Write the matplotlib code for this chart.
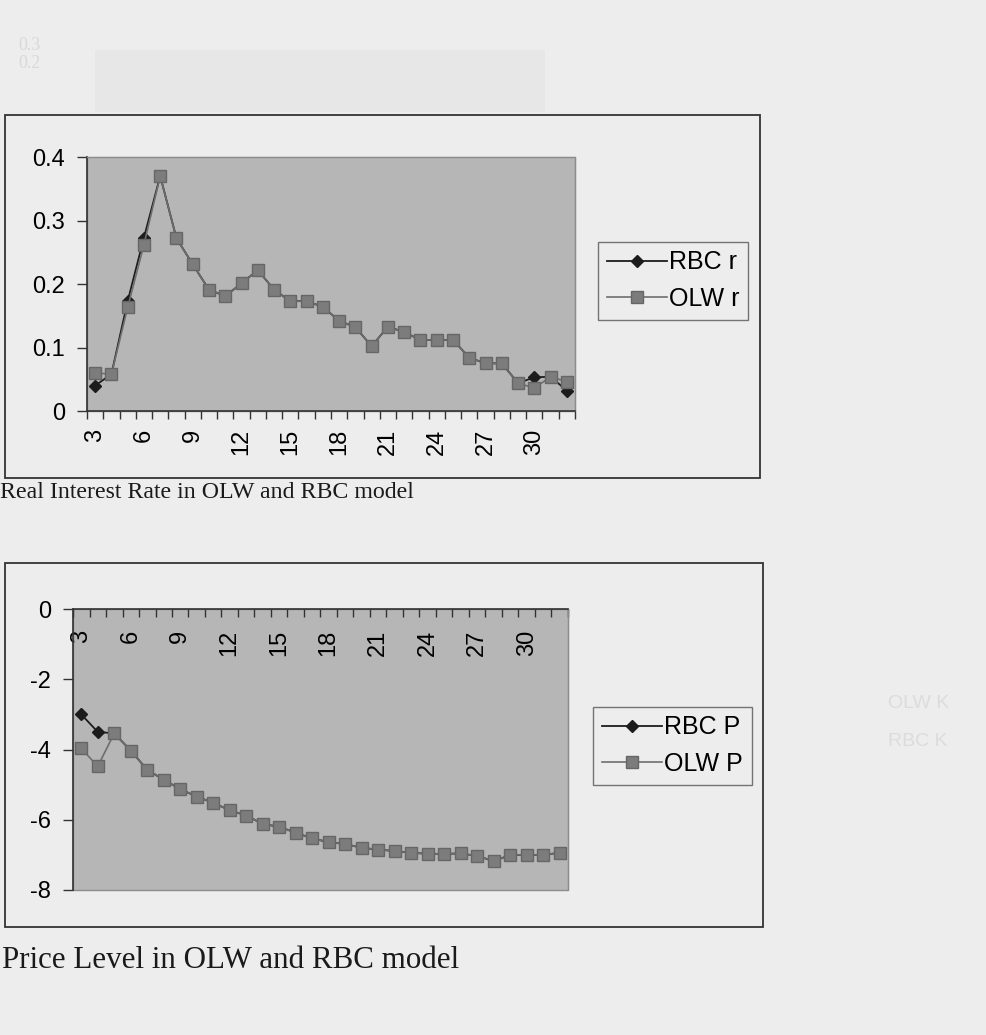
import matplotlib
matplotlib.use('Agg')
import matplotlib.pyplot as plt
from matplotlib.patches import Rectangle
import numpy as np

# periods on the x axis
periods = list(range(3, 33))

# real interest rate
rbc_r = [0.040, 0.058, 0.173, 0.273, 0.370, 0.272, 0.231, 0.191, 0.181, 0.201,
         0.222, 0.191, 0.173, 0.173, 0.164, 0.142, 0.132, 0.102, 0.133, 0.124,
         0.112, 0.112, 0.112, 0.084, 0.075, 0.075, 0.044, 0.053, 0.054, 0.032]
olw_r = [0.060, 0.058, 0.163, 0.262, 0.370, 0.272, 0.231, 0.191, 0.181, 0.201,
         0.222, 0.191, 0.173, 0.173, 0.164, 0.142, 0.132, 0.102, 0.133, 0.124,
         0.112, 0.112, 0.112, 0.084, 0.075, 0.075, 0.044, 0.036, 0.054, 0.046]

# price level
rbc_p = [-3.00, -3.50, -3.54, -4.03, -4.58, -4.86, -5.13, -5.34, -5.52, -5.73,
         -5.88, -6.12, -6.20, -6.37, -6.53, -6.64, -6.69, -6.80, -6.85, -6.89,
         -6.94, -6.97, -6.97, -6.96, -7.03, -7.18, -7.00, -7.00, -7.00, -6.94]
olw_p = [-3.97, -4.48, -3.54, -4.03, -4.58, -4.86, -5.13, -5.34, -5.52, -5.73,
         -5.88, -6.12, -6.20, -6.37, -6.53, -6.64, -6.69, -6.80, -6.85, -6.89,
         -6.94, -6.97, -6.97, -6.96, -7.03, -7.18, -7.00, -7.00, -7.00, -6.94]

r_ticks = [0, 0.1, 0.2, 0.3, 0.4]
p_ticks = [0, -2, -4, -6, -8]

page = '#ededed'
plot_bg = '#b6b6b6'
W, H = 987, 1035

plt.rcParams['font.family'] = ['Liberation Sans', 'DejaVu Sans']
plt.rcParams['axes.unicode_minus'] = False
fig = plt.figure(figsize=(W / 100, H / 100), dpi=100, facecolor=page)


def fbox(x0, y0, x1, y1, **kw):
    # rectangle given in pixel coords from the top-left corner
    fig.patches.append(Rectangle((x0 / W, 1 - y1 / H), (x1 - x0) / W, (y1 - y0) / H,
                                 transform=fig.transFigure, **kw))


# faint show-through from the other side of the sheet
fbox(95, 50, 545, 112, facecolor='#e7e7e7', edgecolor='none', zorder=0)
fig.text(18 / W, 1 - 46 / H, '0.3', fontsize=13, color='#d9d9d9', va='center',
         family=['Liberation Serif'])
fig.text(18 / W, 1 - 64 / H, '0.2', fontsize=13, color='#d9d9d9', va='center',
         family=['Liberation Serif'])
fig.text(888 / W, 1 - 703 / H, 'OLW K', fontsize=14, color='#dcdcdc', va='center')
fig.text(888 / W, 1 - 741 / H, 'RBC K', fontsize=14, color='#dcdcdc', va='center')

# chart frames
fbox(5, 115, 760, 478, facecolor='none', edgecolor='#333333', linewidth=1.3, zorder=1)
fbox(5, 563, 763, 927, facecolor='none', edgecolor='#333333', linewidth=1.3, zorder=1)


def setup(ax, rect, cross_zero=False):
    x0, y0, x1, y1 = rect
    ax.set_position([x0 / W, 1 - y1 / H, (x1 - x0) / W, (y1 - y0) / H])
    ax.set_facecolor(plot_bg)
    ax.patch.set_edgecolor('#8c8c8c')
    ax.patch.set_linewidth(1.0)
    if cross_zero:
        # category axis drawn where the value axis passes zero
        ax.spines['bottom'].set_position(('data', 0))
        ax.spines['top'].set_visible(False)
    ax.set_xlim(-0.5, len(periods) - 0.5)
    idx = np.arange(len(periods))
    ax.set_xticks(idx[::3])
    ax.set_xticklabels([str(p) for p in periods[::3]])
    ax.set_xticks(np.arange(len(periods) + 1) - 0.5, minor=True)
    ax.tick_params(axis='x', which='major', length=0, labelsize=17, pad=13,
                   labelrotation=90)
    ax.tick_params(axis='x', which='minor', length=6, width=1, color='#333333')
    ax.tick_params(axis='y', length=7, width=1, color='#333333', labelsize=17, pad=9)
    for s in ['top', 'right']:
        ax.spines[s].set_color('#8c8c8c')
    for s in ['left', 'bottom']:
        ax.spines[s].set_color('#333333')
        ax.spines[s].set_linewidth(1.2)


def series(ax, rbc, olw, labels):
    x = np.arange(len(periods))
    ax.plot(x, rbc, color='#1c1c1c', lw=1.3, marker='D', ms=6.5,
            mfc='#1c1c1c', mec='#1c1c1c', label=labels[0], zorder=3)
    ax.plot(x, olw, color='#6e6e6e', lw=1.2, marker='s', ms=8.5,
            mfc='#7c7c7c', mec='#666666', label=labels[1], zorder=4)


# real interest rate chart
ax1 = fig.add_axes([0, 0, 1, 1])
setup(ax1, (87, 157, 575, 411))
series(ax1, rbc_r, olw_r, ['RBC r', 'OLW r'])
ax1.set_ylim(0, 0.4)
ax1.set_yticks(r_ticks)
ax1.set_yticklabels(['0', '0.1', '0.2', '0.3', '0.4'])

# price level chart
ax2 = fig.add_axes([0, 0, 1, 1])
setup(ax2, (73, 609, 568, 890), cross_zero=True)
series(ax2, rbc_p, olw_p, ['RBC P', 'OLW P'])
ax2.set_ylim(-8, 0)
ax2.set_yticks(p_ticks)
ax2.tick_params(axis='x', which='major', pad=15)

for ax, (x0, y0, x1, y1) in [(ax1, (596, 239, 750, 322)), (ax2, (590, 704, 755, 787))]:
    leg = ax.legend(loc='center', bbox_to_anchor=((x0 + x1) / 2 / W, 1 - (y0 + y1) / 2 / H),
                    bbox_transform=fig.transFigure, frameon=True, fancybox=False,
                    fontsize=18, handlelength=2.4, handletextpad=0.1, labelspacing=0.5,
                    borderpad=0.35, borderaxespad=0)
    leg.get_frame().set_edgecolor('#555555')
    leg.get_frame().set_facecolor(page)
    leg.get_frame().set_linewidth(1.0)

serif = ['Liberation Serif', 'DejaVu Serif']
fig.text(0 / W, 1 - 492 / H, 'Real Interest Rate in OLW and RBC model',
         family=serif, fontsize=17.2, va='center', ha='left', color='#1a1a1a')
fig.text(2 / W, 1 - 960 / H, 'Price Level in OLW and RBC model',
         family=serif, fontsize=22.3, va='center', ha='left', color='#1a1a1a')

fig.savefig('out.png', dpi=100, facecolor=page)
